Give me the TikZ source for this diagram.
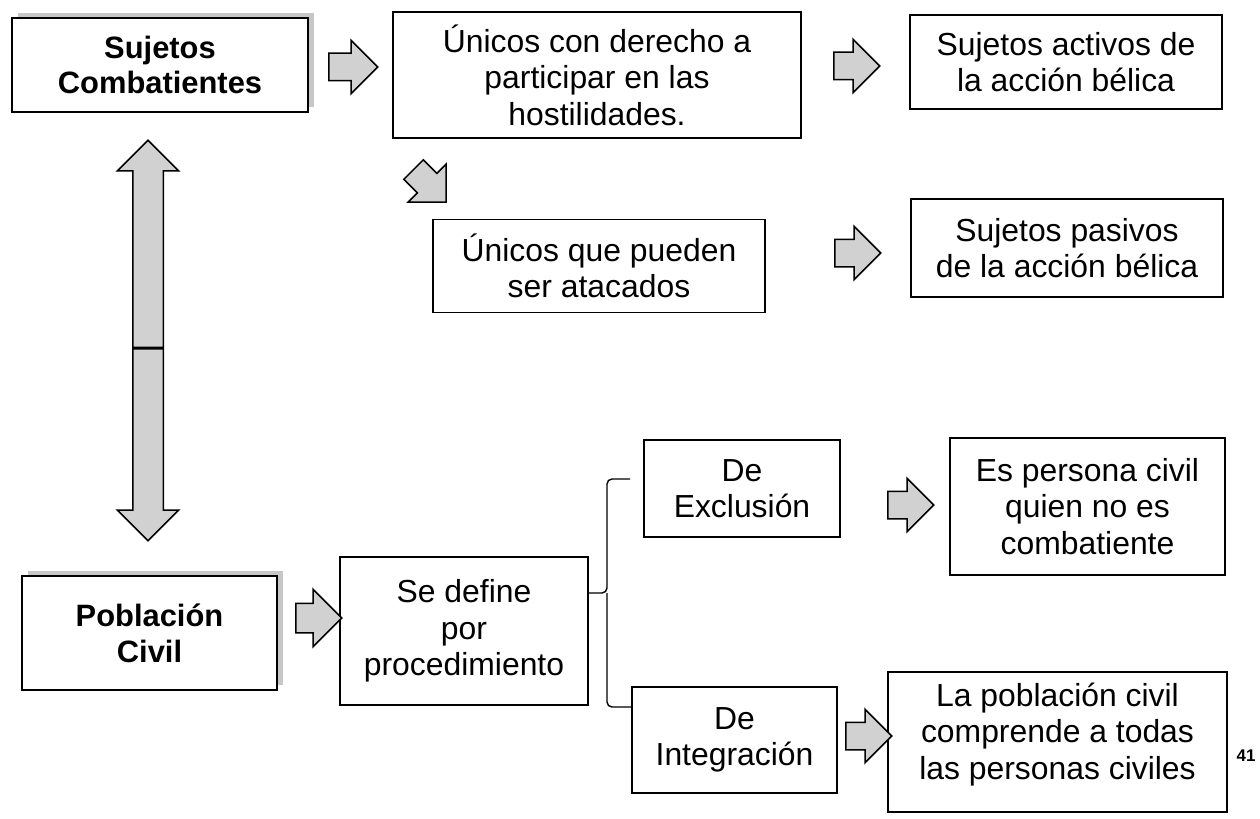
\documentclass[tikz,border=0pt]{standalone}
\usepackage{fontspec}
\setmainfont{Liberation Sans}
\usetikzlibrary{shapes.arrows,shadows,calc}

\newcommand{\boxtext}{\fontsize{32}{36.5}\selectfont}
\newcommand{\titletext}{\fontsize{31}{36}\selectfont\bfseries}

\begin{document}
\begin{tikzpicture}[x=1bp, y=-1bp,
    box/.style={draw, line width=1.6bp, fill=white, align=center, inner sep=0pt, font=\boxtext},
    titlebox/.style={box, font=\titletext, general shadow={fill=black!22, shadow xshift=6bp, shadow yshift=5bp}},
    blockarrow/.style={single arrow, draw, line width=1.5bp, fill=black!18, inner xsep=0pt, inner ysep=13bp,
      minimum height=46bp, single arrow head extend=13bp, anchor=tail},
    longarrow/.style={blockarrow, inner ysep=14.5bp, single arrow head extend=15.5bp}]
    \useasboundingbox (0,0) rectangle (1260,819);
    % upper branch
    \node[titlebox, minimum width=296bp, minimum height=94bp] (sujetos) at (160,65) {Sujetos\\Combatientes};
    \node[box, minimum width=408bp, minimum height=126bp] (derecho) at (597,75) {Únicos con derecho a\\participar en las\\hostilidades.};
    \node[box, minimum width=312bp, minimum height=94bp] (activos) at (1066,62) {Sujetos activos de\\la acción bélica};
    \node[box, minimum width=332bp, minimum height=93bp] (atacados) at (599,266) {Únicos que pueden\\ser atacados};
    \node[box, minimum width=312bp, minimum height=98bp] (pasivos) at (1067,248) {Sujetos pasivos\\de la acción bélica};
    \node[blockarrow, minimum height=49bp] (a1) at (328,67) {};
    \node[blockarrow] (a2) at (833,66) {};
    \node[blockarrow, rotate=-45] (a3) at (413,169) {};
    \node[blockarrow] (a4) at (834,253) {};
    % double arrow
    \coordinate (mid) at (148,348);
    \node[longarrow, rotate=90, minimum height=207bp] (up) at (mid) {};
    \node[longarrow, rotate=-90, minimum height=192bp] (down) at (mid) {};
    % lower branch
    \node[titlebox, minimum width=255bp, minimum height=114bp] (poblacion) at (149.5,633) {Población\\Civil};
    \node[box, minimum width=248bp, minimum height=148bp] (define) at (464,631) {Se define\\por\\procedimiento};
    \node[box, minimum width=196bp, minimum height=97bp] (exclusion) at (742,488.5) {De\\Exclusión};
    \node[box, minimum width=275bp, minimum height=137bp] (civil) at (1087.5,506.5) {Es persona civil\\quien no es\\combatiente};
    \node[box, minimum width=205bp, minimum height=106bp] (integracion) at (734.5,740) {De\\Integración};
    \node[box, minimum width=339bp, minimum height=140bp, text depth=22bp] (todas) at (1057.5,742) {La población civil\\comprende a todas\\las personas civiles};
    \node[blockarrow, inner ysep=14bp, single arrow head extend=14bp] (a5) at (295,618) {};
    \node[blockarrow] (a6) at (887,505) {};
    \node[blockarrow] (a7) at (845,736) {};
    % bracket
    \coordinate (top) at (630,479);
    \draw[line width=1.4bp, rounded corners=5bp] (define.east |- 0,593) -- (607,593) |- (top);
    \draw[line width=1.4bp, rounded corners=5bp] (607,593) |- (integracion.west |- 0,707);
    \node[font=\fontsize{17}{17}\selectfont\bfseries] (num) at (1246,756) {41};
\end{tikzpicture}
\end{document}
